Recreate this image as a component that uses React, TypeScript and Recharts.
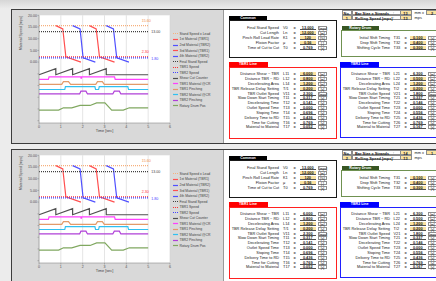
import React from 'react';
import { LineChart, Line, XAxis, YAxis, CartesianGrid, Legend, Label } from 'recharts';

// ─── Chart data ──────────────────────────────────────────────────────────────

const TIME_TICKS = [0, 1, 2, 3, 4, 5, 6];
const SPEED_TICKS = [20, 15, 10, 5, 0, -5, -10, -15, -20, -25];

const LEVEL_T = [0, 5];
const STAND_LEAD_V = [15.6, 15.6];
const FINAL_STAND_V = [13, 13];
const TBR1_SPEED_V = [2.3, 2.3];
const TBR2_SPEED_V = [1.8, 1.8];

const MAT1_T = [0.77, 1.09, 1.23, 1.92];
const MAT1_V = [15.6, 14.2, 2.3, 0];
const MAT2_T = [1.54, 1.88, 2.02, 2.58];
const MAT2_V = [15.6, 14.2, 1.8, 0];
const MAT3_T = [2.31, 2.62, 2.77, 3.46];
const MAT3_V = [15.6, 14.2, 2.3, 0];
const MAT4_T = [3.08, 3.41, 3.56, 4.12];
const MAT4_V = [15.6, 14.2, 1.8, 0];

const SHEAR_T = [0, 0.77, 0.77, 1.54, 1.54, 2.31, 2.31, 3.08, 3.08, 5];
const SHEAR_V = [-5.4, -2.8, -5.4, -2.8, -5.4, -2.8, -5.4, -2.8, -5.4, -5.4];

const TBR1_CR_T = [0, 0.43, 0.46, 1.92, 1.93, 1.96, 3.46, 3.49, 5];
const TBR1_CR_V = [-7.4, -7.4, -6.3, -6.3, -7.1, -6.3, -6.3, -7.4, -7.4];

const TBR1_PINCH_T = [0, 1.04, 1.12, 1.35, 1.45, 2.6, 2.68, 2.9, 2.99, 5];
const TBR1_PINCH_V = [-9.5, -9.5, -8.3, -8.3, -9.5, -9.5, -8.3, -8.3, -9.5, -9.5];

const TBR2_CR_T = [0, 1.18, 1.21, 2.56, 2.59, 2.73, 2.76, 4.07, 4.1, 5];
const TBR2_CR_V = [-11.7, -11.7, -10.5, -10.5, -11.7, -11.7, -10.5, -10.5, -11.7, -11.7];

const TBR2_PINCH_T = [0, 1.86, 1.92, 2.15, 2.22, 3.38, 3.45, 3.68, 3.75, 5];
const TBR2_PINCH_V = [-13.6, -13.6, -12.4, -12.4, -13.6, -13.6, -12.4, -12.4, -13.6, -13.6];

const DRUM_T = [0, 0.9, 1.12, 1.5, 1.88, 2.34, 2.64, 3.02, 3.33, 3.86, 4.14, 5];
const DRUM_V = [-20.5, -20.5, -19.5, -19.5, -18.5, -18.5, -17.4, -17.4, -20.5, -20.5, -19.5, -19.5];

// ─── Table data ──────────────────────────────────────────────────────────────

const COMMON_LABELS = ['Final Stand Speed', 'Cut Length', 'Pinch Roll Lead Rate', 'Flixion Factor', 'Time of Cut to Cut'];
const COMMON_SYMBOLS = ['V0', 'Ln', 'K1', 'μ', 'T0'];
const COMMON_VALUES = ['13.000', '12.000', '120', '0.56', '0.769'];
const COMMON_UNITS = ['[mps]', '[m]', '[%]', '[-]', '[s]'];
const COMMON_INPUT = [false, true, true, true, false];

const DRUM_LABELS = ['Initial Shift Timing', 'Drop Shift Timing', 'Shifting Cycle Time'];
const DRUM_SYMBOLS = ['T31', 'T32', 'T33'];
const DRUM_VALUES = ['0.100', '0.400', '0.300'];
const DRUM_UNITS = ['[s]', '[s]', '[s]'];
const DRUM_INPUT = [true, true, true];

const TBR_LABELS = [
  'Distance Shear ~ TBR', 'Distance TBR ~ RD', 'Decelerating Area', 'TBR Release Delay Setting',
  'TBR Outlet Speed', 'Slow Down Start Timing', 'Decelerating Time', 'Outlet Speed Time',
  'Stoping Time', 'Delivery Time to RD', 'Time for Cutting', 'Material to Material',
];
const TBR_UNITS = ['[m]', '[m]', '[m]', '[s]', '[mps]', '[s]', '[s]', '[s]', '[s]', '[s]', '[s]', '[s]'];
const TBR1_SYMBOLS = ['L11', 'L12', 'L14', 'T/1', 'V11', 'T11', 'T12', 'T13', 'T14', 'T15', 'T16', 'T17'];
const TBR1_VALUES = ['6.000', '0.800', '1.200', '0.200', '2.300', '0.317', '0.141', '0.000', '0.696', '0.436', '0.769', '0.052'];
const TBR2_SYMBOLS = ['L21', 'L22', 'L24', 'T/2', 'V21', 'T21', 'T22', 'T23', 'T24', 'T25', 'T26', 'T27'];
const TBR2_VALUES = ['6.300', '0.500', '1.200', '0.200', '1.800', '0.337', '0.146', '0.000', '0.556', '0.436', '0.769', '0.167'];

const PANEL_NO = ['1', '2'];
const PANEL_BAR = ['13', '14'];
const PANEL_STRANDS = ['2', '1'];
const PANEL_ROLLING = ['13', '13'];
const PANEL_TBR1_INPUT = [
  [true, true, true, true, false, false, false, false, false, false, false, false],
  [false, false, true, true, false, false, false, false, false, false, false, false],
];
const PANEL_TBR2_INPUT = [
  [false, true, true, true, false, false, false, false, false, false, false, false],
  [false, false, true, true, false, false, false, false, false, false, false, false],
];

// ─── Helpers ─────────────────────────────────────────────────────────────────

const pts = (t: number[], v: number[]) => t.map((x, i) => ({ t: x, v: v[i] }));

const FONT = '"Liberation Sans", Arial, sans-serif';

interface SeriesDef {
  name: string;
  t: number[];
  v: number[];
  color: string;
  dash?: string;
  tag?: { color: string; dx: number; dy: number; anchor: 'start' | 'middle' };
}

const SERIES: SeriesDef[] = [
  { name: 'Stand Speed x Lead', t: LEVEL_T, v: STAND_LEAD_V, color: '#f6b07c', dash: '1 1', tag: { color: '#f08a40', dx: -2, dy: -3.5, anchor: 'middle' } },
  { name: '1st Material (TBR1)', t: MAT1_T, v: MAT1_V, color: '#ff5050' },
  { name: '2nd Material (TBR2)', t: MAT2_T, v: MAT2_V, color: '#5050ff' },
  { name: '3rd Material (TBR1)', t: MAT3_T, v: MAT3_V, color: '#ff5050' },
  { name: '4th Material (TBR2)', t: MAT4_T, v: MAT4_V, color: '#5050ff' },
  { name: 'Final Stand Speed', t: LEVEL_T, v: FINAL_STAND_V, color: '#404040', dash: '1 1', tag: { color: '#404040', dx: 3, dy: 1.3, anchor: 'start' } },
  { name: 'TBR1 Speed', t: LEVEL_T, v: TBR1_SPEED_V, color: '#ff3030', dash: '1 1', tag: { color: '#ff3030', dx: -3, dy: -3.5, anchor: 'middle' } },
  { name: 'TBR2 Speed', t: LEVEL_T, v: TBR2_SPEED_V, color: '#4040ff', dash: '1 1', tag: { color: '#4040ff', dx: 3, dy: 2.2, anchor: 'start' } },
  { name: 'Shear Cut Counter', t: SHEAR_T, v: SHEAR_V, color: '#505050' },
  { name: 'TBR1 Material @CR', t: TBR1_CR_T, v: TBR1_CR_V, color: '#ff40ff' },
  { name: 'TBR1 Pinching', t: TBR1_PINCH_T, v: TBR1_PINCH_V, color: '#e39a6a' },
  { name: 'TBR2 Material @CR', t: TBR2_CR_T, v: TBR2_CR_V, color: '#30c0f0' },
  { name: 'TBR2 Pinching', t: TBR2_PINCH_T, v: TBR2_PINCH_V, color: '#b040d8' },
  { name: 'Rotary Drum Pos', t: DRUM_T, v: DRUM_V, color: '#80a860' },
];

// legend keeps the series order (Recharts would sort by name)
function LegendBox() {
  return (
    <div style={{ fontFamily: FONT, fontSize: 3.4, color: '#404040' }}>
      {SERIES.map((s) => (
        <div key={s.name} style={{ display: 'flex', alignItems: 'center', height: 5.54, whiteSpace: 'nowrap' }}>
          <svg width={5} height={3} style={{ marginRight: 1.5 }}>
            <line x1={0} y1={1.5} x2={5} y2={1.5} stroke={s.color} strokeWidth={1.2} strokeDasharray={s.dash} />
          </svg>
          <span>{s.name}</span>
        </div>
      ))}
    </div>
  );
}

function SpeedChart() {
  return (
    <LineChart
      width={211}
      height={133}
      margin={{ top: 5.3, right: 53, bottom: 10, left: 5 }}
      style={{ background: '#d9d9d9' }}
    >
      <CartesianGrid horizontal={false} stroke="#d4d4d4" strokeWidth={0.6} fill="#ffffff" />
      <XAxis
        type="number"
        dataKey="t"
        domain={[0, 6]}
        ticks={TIME_TICKS}
        height={10}
        stroke="#8c8c8c"
        strokeWidth={0.6}
        tickSize={1.5}
        tickMargin={1}
        tick={{ fontSize: 3.6, fill: '#505050', fontFamily: FONT }}
        allowDuplicatedCategory={false}
      >
        <Label value="Time [sec]" position="bottom" offset={-3.5} style={{ fontSize: 3.8, fill: '#404040', fontFamily: FONT }} />
      </XAxis>
      <YAxis
        type="number"
        dataKey="v"
        domain={[-26, 20]}
        allowDataOverflow
        ticks={SPEED_TICKS}
        width={22}
        stroke="#8c8c8c"
        strokeWidth={0.6}
        tickSize={1.5}
        tickMargin={0.5}
        tick={{ fontSize: 3.6, fill: '#505050', fontFamily: FONT }}
        tickFormatter={(v: number) => (v >= 0 ? v.toFixed(2) : '')}
      >
        <Label
          content={({ viewBox }: any) => {
            const x = viewBox.x + 5;
            const y = viewBox.y + 18;
            return (
              <text x={x} y={y} transform={`rotate(-90 ${x} ${y})`} textAnchor="middle" fontSize={3.6} fill="#404040" fontFamily={FONT}>
                Material Speed [mps]
              </text>
            );
          }}
        />
      </YAxis>
      <Legend
        layout="vertical"
        align="center"
        verticalAlign="middle"
        content={<LegendBox />}
        wrapperStyle={{ left: 161, top: 21.2, width: 50 }}
      />
      {SERIES.map((s) => (
        <Line
          key={s.name}
          name={s.name}
          data={pts(s.t, s.v)}
          dataKey="v"
          type="linear"
          stroke={s.color}
          strokeWidth={1.2}
          strokeDasharray={s.dash}
          dot={false}
          activeDot={false}
          legendType="line"
          isAnimationActive={false}
          label={
            s.tag
              ? (p: any) =>
                  p.index === s.t.length - 1 ? (
                    <text
                      key={`${s.name}-tag`}
                      x={p.x + s.tag!.dx}
                      y={p.y + s.tag!.dy}
                      textAnchor={s.tag!.anchor}
                      fontSize={3.6}
                      fill={s.tag!.color}
                      fontFamily={FONT}
                    >
                      {Number(p.value).toFixed(2)}
                    </text>
                  ) : (
                    <g key={`${s.name}-${p.index}`} />
                  )
              : false
          }
        />
      ))}
    </LineChart>
  );
}

// ─── Parameter tables ────────────────────────────────────────────────────────

interface Cols {
  labelRight: number;
  sym: number;
  eq: number;
  valL: number;
  valR: number;
  unitL: number;
  unitR: number;
}

const COLS_LEFT: Cols = { labelRight: 268, sym: 272, eq: 282.5, valL: 288.5, valR: 305, unitL: 307, unitR: 316 };
const COLS_RIGHT: Cols = { labelRight: 379, sym: 382.5, eq: 393.5, valL: 398.5, valR: 415, unitL: 417, unitR: 426 };

const txt: React.CSSProperties = {
  position: 'absolute',
  fontFamily: FONT,
  fontSize: 3.9,
  lineHeight: '4px',
  color: '#202020',
  whiteSpace: 'nowrap',
};

function ParamRows(props: {
  top: number;
  step: number;
  cols: Cols;
  labels: string[];
  symbols: string[];
  values: string[];
  units: string[];
  inputs: boolean[];
}) {
  const { top, step, cols, labels, symbols, values, units, inputs } = props;
  return (
    <>
      {labels.map((label, i) => {
        const y = top + i * step - 2;
        return (
          <React.Fragment key={label}>
            <div style={{ ...txt, top: y, right: 440 - cols.labelRight, textAlign: 'right' }}>{label}</div>
            <div style={{ ...txt, top: y, left: cols.sym }}>{symbols[i]}</div>
            <div style={{ ...txt, top: y, left: cols.eq }}>=</div>
            <div
              style={{
                ...txt,
                top: y,
                left: cols.valL,
                width: cols.valR - cols.valL,
                height: 4,
                textAlign: 'center',
                fontWeight: 'bold',
                background: inputs[i] ? '#fbe3a0' : '#ffffff',
                borderBottom: '0.6px solid #505050',
                boxSizing: 'border-box',
              }}
            >
              {values[i]}
            </div>
            <div
              style={{
                ...txt,
                top: y,
                left: cols.unitL,
                width: cols.unitR - cols.unitL,
                height: 4,
                fontSize: 3.3,
                textAlign: 'center',
                border: '0.5px solid #909090',
                boxSizing: 'border-box',
              }}
            >
              {units[i]}
            </div>
          </React.Fragment>
        );
      })}
    </>
  );
}

function Tab({ left, top, width, bg, text }: { left: number; top: number; width: number; bg: string; text: string }) {
  return (
    <div
      style={{
        ...txt,
        left,
        top,
        width,
        height: 4.7,
        lineHeight: '4.7px',
        background: bg,
        color: '#fff',
        fontWeight: 'bold',
        textAlign: 'center',
        fontSize: 3.6,
      }}
    >
      {text}
    </div>
  );
}

function Frame({ left, top, width, height, color, w }: { left: number; top: number; width: number; height: number; color: string; w: number }) {
  return (
    <div
      style={{
        position: 'absolute',
        left,
        top,
        width,
        height,
        border: `${w}px solid ${color}`,
        boxSizing: 'border-box',
      }}
    />
  );
}

function Cell({ left, top, width, text, bg, align = 'center', bold = false }: { left: number; top: number; width: number; text: string; bg?: string; align?: 'center' | 'left'; bold?: boolean }) {
  return (
    <div
      style={{
        ...txt,
        left,
        top,
        width,
        height: 5.2,
        lineHeight: '5.2px',
        textAlign: align,
        background: bg,
        fontWeight: bold ? 'bold' : 'normal',
        border: '0.5px solid #8c8c8c',
        boxSizing: 'border-box',
        paddingLeft: align === 'left' ? 2 : 0,
      }}
    >
      {text}
    </div>
  );
}

function Panel({ idx, top }: { idx: number; top: number }) {
  return (
    <div
      style={{
        position: 'absolute',
        left: 11,
        top,
        width: 440,
        height: 135,
        background: '#ffffff',
        boxShadow: 'inset 0 0 0 1px #3c3c3c',
        overflow: 'hidden',
      }}
    >
      <div style={{ position: 'absolute', left: 1, top: 1, width: 211, height: 133, background: '#d9d9d9' }}>
        <SpeedChart />
      </div>
      <div style={{ position: 'absolute', left: 212, top: 1, width: 1, height: 133, background: '#9a9a9a' }} />

      {/* bar size / rolling speed */}
      <Cell left={330.5} top={1} width={10.5} text="No." bold />
      <Cell left={341} top={1} width={49} text="Bar Size x Strands" align="left" bold />
      <div style={{ ...txt, left: 382, top: 1.6 }}>:</div>
      <Cell left={388.5} top={1} width={12} text={PANEL_BAR[idx]} bg="#fbe3a0" bold />
      <div style={{ ...txt, left: 403.5, top: 1.6 }}>mm x</div>
      <Cell left={415} top={1} width={12} text={PANEL_STRANDS[idx]} bg="#fbe3a0" bold />
      <Cell left={330.5} top={6.2} width={10.5} text={PANEL_NO[idx]} bg="#fbe3a0" bold />
      <Cell left={341} top={6.2} width={49} text="Rolling Speed [mps]" align="left" bold />
      <div style={{ ...txt, left: 382, top: 6.8 }}>:</div>
      <Cell left={388.5} top={6.2} width={12} text={PANEL_ROLLING[idx]} bg="#fbe3a0" bold />
      <div style={{ ...txt, left: 403.5, top: 6.8 }}>mps</div>

      {/* common */}
      <Tab left={218} top={6.5} width={38} bg="#000000" text="Common" />
      <Frame left={218} top={11} width={107.5} height={37.5} color="#1a1a1a" w={1.2} />
      <ParamRows top={19.3} step={4.85} cols={COLS_LEFT} labels={COMMON_LABELS} symbols={COMMON_SYMBOLS} values={COMMON_VALUES} units={COMMON_UNITS} inputs={COMMON_INPUT} />

      {/* rotary drum */}
      <Tab left={330.5} top={16.6} width={37.5} bg="#375623" text="Rotary Drum" />
      <Frame left={330} top={21.2} width={120} height={27.3} color="#6f9150" w={1} />
      <ParamRows top={28.7} step={5} cols={COLS_RIGHT} labels={DRUM_LABELS} symbols={DRUM_SYMBOLS} values={DRUM_VALUES} units={DRUM_UNITS} inputs={DRUM_INPUT} />

      {/* TBR1 */}
      <Tab left={217.5} top={53} width={39} bg="#ff0000" text="TBR1 Line" />
      <Frame left={217.5} top={57.7} width={108.3} height={72} color="#ff2020" w={1.2} />
      <ParamRows top={65.3} step={4.82} cols={COLS_LEFT} labels={TBR_LABELS} symbols={TBR1_SYMBOLS} values={TBR1_VALUES} units={TBR_UNITS} inputs={PANEL_TBR1_INPUT[idx]} />

      {/* TBR2 */}
      <Tab left={329} top={53} width={39.3} bg="#0000ff" text="TBR2 Line" />
      <Frame left={329} top={57.7} width={120} height={71.5} color="#2020ff" w={1.2} />
      <ParamRows top={65.3} step={4.82} cols={COLS_RIGHT} labels={TBR_LABELS} symbols={TBR2_SYMBOLS} values={TBR2_VALUES} units={TBR_UNITS} inputs={PANEL_TBR2_INPUT[idx]} />
    </div>
  );
}

export default function App() {
  return (
    <div
      style={{
        position: 'absolute',
        left: 0,
        top: 0,
        width: 436,
        height: 281,
        overflow: 'hidden',
        background: '#ececec',
      }}
    >
      <div style={{ position: 'absolute', left: 0, top: 0, width: 436, height: 9, background: 'linear-gradient(#d6d6d6, #ededed)' }} />
      <Panel idx={0} top={9} />
      <Panel idx={1} top={149} />
    </div>
  );
}
